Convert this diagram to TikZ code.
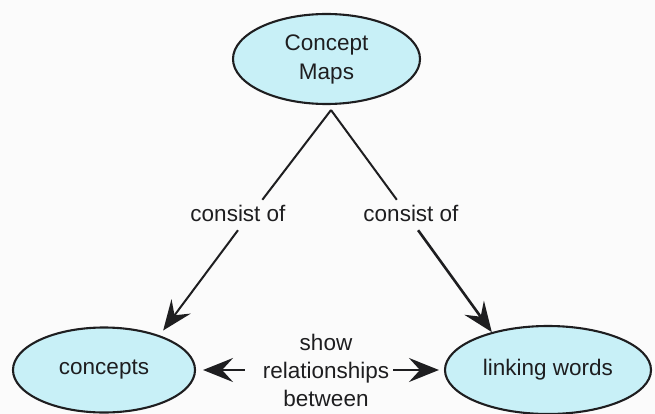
\documentclass[tikz,border=0pt]{standalone}
\usepackage{fontspec}
\setmainfont{Liberation Sans}
\usetikzlibrary{shapes.geometric,arrows.meta,calc}
\definecolor{bubble}{RGB}{200,240,247}
\definecolor{ink}{RGB}{30,30,32}
\definecolor{paper}{RGB}{251,251,251}
\begin{document}
\begin{tikzpicture}[x=1pt,y=-1pt,
  concept/.style={ellipse, draw=ink, line width=2.1pt, fill=bubble, inner sep=0pt,
    align=center, text=ink, font=\fontsize{22.5}{29}\selectfont},
  linklabel/.style={inner xsep=4pt, inner ysep=5pt, text height=16pt, text depth=4pt,
    text=ink, font=\fontsize{22.5}{29}\selectfont},
  link/.style={draw=ink, line width=2pt},
  headed/.style={-{Stealth[length=30pt,width=24pt,inset=11pt]}}
]
% canvas
\fill[paper] (0,0) rectangle (655,414);
\useasboundingbox (0,0) rectangle (655,414);

% concepts
\node[concept, minimum width=187pt, minimum height=90pt] (maps) at (326.5,59) {Concept\\Maps};
\node[concept, minimum width=182pt, minimum height=85pt] (concepts) at (104,370) {concepts};
\node[concept, minimum width=206pt, minimum height=88pt] (words) at (548,370) {linking words};

% linking phrases
\node[linklabel] (lab1) at (238,215) {consist of};
\node[linklabel] (lab2) at (411,215) {consist of};
\node[align=center, inner xsep=4pt, text=ink, font=\fontsize{22.5}{28}\selectfont] (mid) at (326,370)
  {show\\relationships\\between};

% shared start point under the top concept
\coordinate (apex) at ($(maps.south)+(4.5,5)$);

% connectors
\draw[link] (apex) -- (lab1.32);
\draw[link,headed,shorten >=6pt] (lab1.south) -- (concepts.32);
\draw[link] (apex) -- (lab2.133);
\draw[link,headed,line width=2.6pt] (lab2.-65) -- (words.146);
\draw[link,headed,shorten <=14pt,shorten >=7pt] (mid.west) -- (mid.west -| concepts.east);
\draw[link,headed,shorten >=5pt] (mid.east) -- (mid.east -| words.west);
\end{tikzpicture}
\end{document}
